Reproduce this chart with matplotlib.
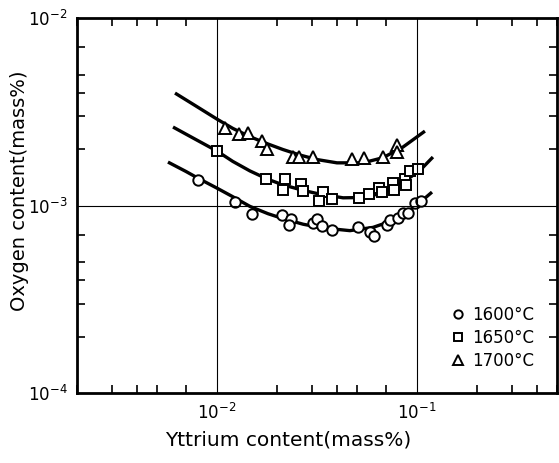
import matplotlib.pyplot as plt
from matplotlib.ticker import LogLocator, NullFormatter, FixedLocator
import numpy as np

plt.rcParams['font.family'] = ['DejaVu Sans']

# measured points (yttrium mass%, oxygen mass%)
y1600_x = [0.00804, 0.0123, 0.0150, 0.0211, 0.0234, 0.0229, 0.0302, 0.0316, 0.0335, 0.0376,
           0.0507, 0.0582, 0.0610, 0.0708, 0.0733, 0.0804, 0.0851, 0.0902, 0.0977, 0.1047]
y1600_o = [1.368e-3, 1.044e-3, 0.901e-3, 0.889e-3, 0.847e-3, 0.787e-3, 0.807e-3, 0.847e-3, 0.778e-3, 0.740e-3,
           0.768e-3, 0.723e-3, 0.687e-3, 0.787e-3, 0.837e-3, 0.857e-3, 0.912e-3, 0.912e-3, 1.031e-3, 1.057e-3]

y1650_x = [0.0100, 0.0176, 0.0219, 0.0214, 0.0263, 0.0269, 0.0339, 0.0324, 0.0376, 0.0513,
           0.0575, 0.0646, 0.0668, 0.0759, 0.0767, 0.0871, 0.0881, 0.0923, 0.1012]
y1650_o = [1.954e-3, 1.384e-3, 1.384e-3, 1.210e-3, 1.303e-3, 1.194e-3, 1.180e-3, 1.057e-3, 1.084e-3, 1.096e-3,
           1.151e-3, 1.239e-3, 1.180e-3, 1.318e-3, 1.210e-3, 1.384e-3, 1.286e-3, 1.528e-3, 1.566e-3]

y1700_x = [0.0110, 0.0129, 0.0143, 0.0168, 0.0178, 0.0240, 0.0257, 0.0302, 0.0473, 0.0543,
           0.0676, 0.0794, 0.0794]
y1700_o = [2.59e-3, 2.405e-3, 2.435e-3, 2.208e-3, 2.0e-3, 1.815e-3, 1.815e-3, 1.815e-3, 1.770e-3, 1.792e-3,
           1.815e-3, 2.10e-3, 1.928e-3]

# fitted curves
c1600_x = [0.00569, 0.00700, 0.00804, 0.0100, 0.0120, 0.01462, 0.0180, 0.02138, 0.0270, 0.0339,
           0.0462, 0.0603, 0.0733, 0.0871, 0.1012, 0.1189]
c1600_o = [1.706e-3, 1.52e-3, 1.400e-3, 1.239e-3, 1.115e-3, 0.990e-3, 0.905e-3, 0.852e-3, 0.795e-3, 0.760e-3,
           0.735e-3, 0.765e-3, 0.822e-3, 0.905e-3, 1.018e-3, 1.180e-3]

c1650_x = [0.00603, 0.00776, 0.0100, 0.0120, 0.01462, 0.0180, 0.02138, 0.0270, 0.03162, 0.0427,
           0.0562, 0.0733, 0.0923, 0.1072, 0.1202]
c1650_o = [2.623e-3, 2.264e-3, 1.954e-3, 1.72e-3, 1.530e-3, 1.380e-3, 1.290e-3, 1.205e-3, 1.160e-3, 1.100e-3,
           1.105e-3, 1.215e-3, 1.41e-3, 1.60e-3, 1.815e-3]

c1700_x = [0.00617, 0.00785, 0.0100, 0.0120, 0.01462, 0.0180, 0.02138, 0.0260, 0.03162, 0.03981,
           0.0537, 0.0676, 0.0851, 0.1096]
c1700_o = [3.981e-3, 3.396e-3, 2.892e-3, 2.58e-3, 2.330e-3, 2.130e-3, 1.990e-3, 1.860e-3, 1.760e-3, 1.690e-3,
           1.690e-3, 1.800e-3, 2.051e-3, 2.495e-3]

fig = plt.figure(figsize=(5.59, 4.63), dpi=100)
ax = fig.add_axes([0.138, 0.151, 0.858, 0.81])

for cx, co in [(c1600_x, c1600_o), (c1650_x, c1650_o), (c1700_x, c1700_o)]:
    ax.plot(cx, co, 'k-', lw=2.4, solid_capstyle='butt')

ax.plot(y1600_x, y1600_o, 'o', ms=7.5, mfc='white', mec='k', mew=1.4, ls='none', label='1600°C')
ax.plot(y1650_x, y1650_o, 's', ms=7.5, mfc='white', mec='k', mew=1.4, ls='none', label='1650°C')
ax.plot(y1700_x, y1700_o, '^', ms=8.5, mfc='white', mec='k', mew=1.4, ls='none', label='1700°C')

ax.set_xscale('log')
ax.set_yscale('log')
ax.set_xlim(0.002, 0.5)
ax.set_ylim(1e-4, 1e-2)

ax.xaxis.set_major_locator(FixedLocator([1e-2, 1e-1]))
ax.yaxis.set_major_locator(FixedLocator([1e-4, 1e-3, 1e-2]))
ax.xaxis.set_minor_locator(LogLocator(base=10, subs=[2, 3, 4, 5, 7]))
ax.yaxis.set_minor_locator(LogLocator(base=10, subs=[2, 3, 4, 5, 7]))
ax.xaxis.set_minor_formatter(NullFormatter())
ax.yaxis.set_minor_formatter(NullFormatter())
ax.set_xticklabels(['$10^{-2}$', '$10^{-1}$'])
ax.set_yticklabels(['$10^{-4}$', '$10^{-3}$', '$10^{-2}$'])

ax.tick_params(which='both', direction='in', top=True, right=True, labelsize=12, width=1.2)
ax.tick_params(which='major', length=0, pad=7)
ax.tick_params(which='minor', length=6)

ax.axvline(1e-2, color='k', lw=0.8)
ax.axvline(1e-1, color='k', lw=0.8)
ax.axhline(1e-3, color='k', lw=0.8)

for s in ax.spines.values():
    s.set_linewidth(2)

ax.set_xlabel('Yttrium content(mass%)', fontsize=14.5)
ax.set_ylabel('Oxygen content(mass%)', fontsize=14)
ax.xaxis.set_label_coords(0.44, -0.1)
ax.yaxis.set_label_coords(-0.1, 0.54)

ax.legend(loc='lower right', bbox_to_anchor=(0.985, 0.022), frameon=False, fontsize=12,
          handlelength=0.8, handletextpad=0.5, labelspacing=0.3, markerscale=0.8)

fig.savefig('out.png', dpi=100)
